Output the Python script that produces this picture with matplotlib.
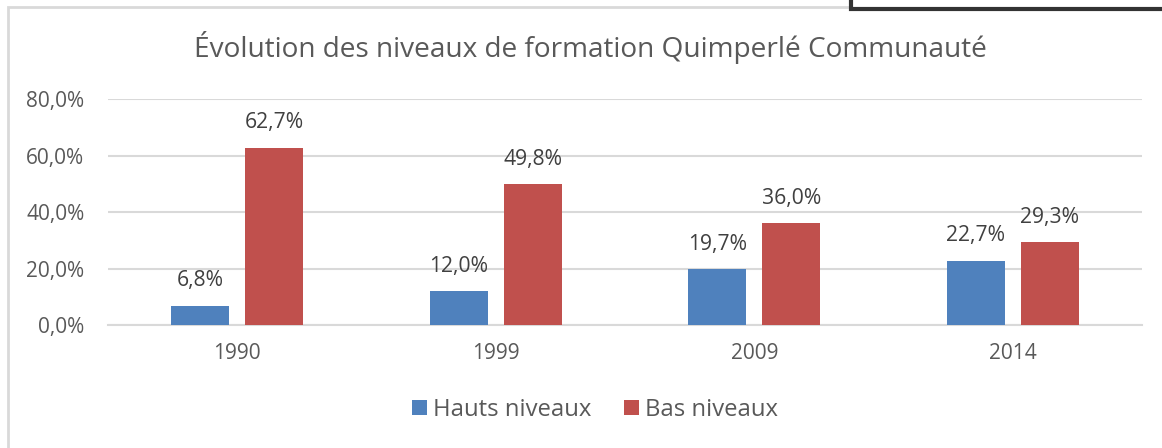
import numpy as np
import matplotlib.pyplot as plt
from matplotlib.patches import Rectangle

years = ["1990", "1999", "2009", "2014"]
hauts = [6.8, 12.0, 19.7, 22.7]
bas = [62.7, 49.8, 36.0, 29.3]
yticks = [0, 20, 40, 60, 80]

blue = "#4F81BD"
red = "#C0504D"
grey_txt = "#595959"
grid_c = "#D9D9D9"

plt.rcParams["font.family"] = ["Open Sans", "DejaVu Sans"]

fig = plt.figure(figsize=(11.62, 4.48), dpi=100)
ax = fig.add_axes([108 / 1162, 1 - 325 / 448, (1142 - 108) / 1162, 226 / 448])

x = np.arange(len(years))
w = 0.224
b1 = ax.bar(x - 0.143, hauts, w, color=blue, label="Hauts niveaux", zorder=3)
b2 = ax.bar(x + 0.143, bas, w, color=red, label="Bas niveaux", zorder=3)

def fr(v):
    return f"{v:.1f}%".replace(".", ",")

for bars, vals in ((b1, hauts), (b2, bas)):
    for r, v in zip(bars, vals):
        ax.annotate(fr(v), (r.get_x() + r.get_width() / 2, v), xytext=(0, 18),
                    textcoords="offset points", ha="center", va="center",
                    fontsize=15.2, color="#404040")

ax.set_xlim(-0.5, 3.5)
ax.set_ylim(0, 80)
ax.set_yticks(yticks)
ax.set_yticklabels([fr(v) for v in yticks])
ax.set_xticks(x)
ax.set_xticklabels(years)
ax.tick_params(axis="both", length=0, labelsize=15, labelcolor=grey_txt)
ax.tick_params(axis="y", pad=17)
ax.tick_params(axis="x", pad=13)
ax.grid(axis="y", color=grid_c, linewidth=1.5, zorder=0)
for s in ("top", "right", "left"):
    ax.spines[s].set_visible(False)
ax.spines["bottom"].set_color(grid_c)
ax.spines["bottom"].set_linewidth(1.5)

fig.text(590 / 1162, 1 - 47 / 448, "Évolution des niveaux de formation Quimperlé Communauté",
         ha="center", va="center", fontsize=20.2, color=grey_txt)

fig.legend(handles=[b1, b2], loc="center", bbox_to_anchor=(595 / 1162, 1 - 410 / 448),
           ncol=2, frameon=False, fontsize=17.2, labelcolor=grey_txt,
           handlelength=0.62, handleheight=0.62, handletextpad=0.25, columnspacing=1.37)

# chart frame and the box cut off at top right
fig.patches.append(Rectangle((8 / 1162, -0.1), 1.2, 1.1 - 7 / 448, transform=fig.transFigure,
                             fill=False, edgecolor=grid_c, linewidth=2, zorder=0))
fig.patches.append(Rectangle((851 / 1162, 1 - 9 / 448), 0.5, 0.2, transform=fig.transFigure,
                             facecolor="white", edgecolor="#333333", linewidth=3, zorder=1))

fig.savefig("out.png", dpi=100)
